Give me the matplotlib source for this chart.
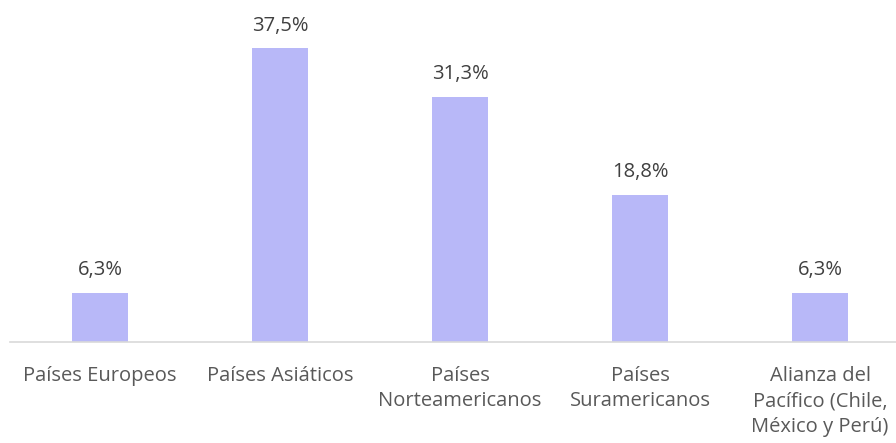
import matplotlib
matplotlib.use("Agg")
import matplotlib.pyplot as plt

categories = ["Países Europeos", "Países Asiáticos", "Países\nNorteamericanos",
              "Países\nSuramericanos", "Alianza del\nPacífico (Chile,\nMéxico y Perú)"]
values = [6.3, 37.5, 31.3, 18.8, 6.3]
labels = ["6,3%", "37,5%", "31,3%", "18,8%", "6,3%"]

plt.rcParams['font.family'] = ['Open Sans', 'DejaVu Sans']
W, H = 896, 443
fig = plt.figure(figsize=(W/100, H/100), dpi=100)
base = 342
ax = fig.add_axes([10/W, (H-base)/H, (W-10)/W, (base-28)/H])
x = list(range(len(categories)))
bars = ax.bar(x, values, width=0.31, color="#B8B8F8")
ax.set_xlim(-0.5, (W-10)/180 - 0.5)
ax.set_ylim(0, (base-28)/7.84)
for xi, v, l in zip(x, values, labels):
    ax.annotate(l, (xi, v), xytext=(0, 9), textcoords="offset points",
                ha="center", va="bottom", fontsize=14.5, color="#404040")
ax.set_xticks(x)
ax.set_xticklabels(categories, fontsize=14.5, color="#595959", linespacing=1.38, va="top")
ax.tick_params(axis="x", length=0, pad=17)
ax.set_yticks([])
for s in ["top", "right", "left"]:
    ax.spines[s].set_visible(False)
ax.spines["bottom"].set_color("#D9D9D9")
ax.spines["bottom"].set_linewidth(1.2)
fig.savefig("out.png", dpi=100)
